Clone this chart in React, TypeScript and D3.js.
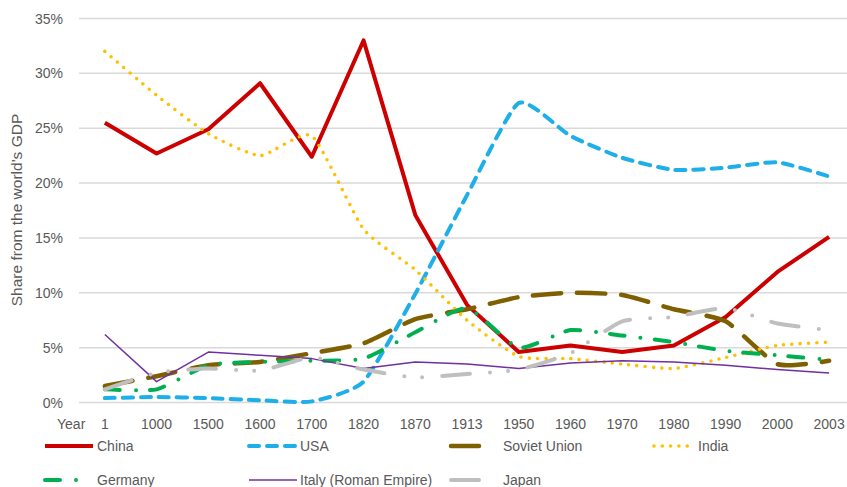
import React from "react";
import * as d3 from "d3";

// Share of world GDP (%) by year
const years = ["1", "1000", "1500", "1600", "1700", "1820", "1870", "1913", "1950", "1960", "1970", "1980", "1990", "2000", "2003"];

const china = [25.5, 22.7, 24.9, 29.1, 22.4, 33.0, 17.1, 8.9, 4.6, 5.2, 4.6, 5.2, 7.8, 11.9, 15.1];
const usa = [0.4, 0.5, 0.4, 0.2, 0.1, 1.9, 9.9, 18.9, 27.3, 24.3, 22.3, 21.2, 21.4, 21.9, 20.6];
const sovietUnion = [1.5, 2.4, 3.4, 3.7, 4.5, 5.4, 7.6, 8.5, 9.6, 10.0, 9.8, 8.5, 7.4, 3.5, 3.8];
const india = [32.0, 28.0, 24.5, 22.5, 24.3, 15.8, 12.1, 7.5, 4.2, 4.0, 3.5, 3.1, 4.1, 5.2, 5.5];
const germany = [1.2, 1.2, 3.4, 3.7, 3.8, 4.0, 6.4, 8.6, 5.0, 6.6, 6.1, 5.5, 4.7, 4.3, 3.9];
const italy = [6.2, 1.9, 4.6, 4.3, 4.0, 3.1, 3.7, 3.5, 3.1, 3.6, 3.8, 3.7, 3.4, 3.0, 2.7];
const japan = [1.2, 2.7, 3.1, 2.9, 4.1, 3.0, 2.3, 2.6, 3.0, 4.5, 7.4, 7.8, 8.6, 7.2, 6.6];

const yTicks = [0, 5, 10, 15, 20, 25, 30, 35];

type Series = {
  name: string;
  values: number[];
  color: string;
  width: number;
  dash: string;
  cap: "round" | "butt";
  smooth: boolean;
  col: number;
  row: number;
  legendLen: number;
};

const series: Series[] = [
  { name: "China", values: china, color: "#CC0000", width: 4, dash: "", cap: "butt", smooth: false, col: 0, row: 0, legendLen: 48 },
  { name: "USA", values: usa, color: "#1EAEE8", width: 4, dash: "10,8", cap: "round", smooth: true, col: 1, row: 0, legendLen: 46 },
  { name: "Soviet Union", values: sovietUnion, color: "#7F6000", width: 4.5, dash: "28,16", cap: "round", smooth: true, col: 2, row: 0, legendLen: 30 },
  { name: "India", values: india, color: "#FFC000", width: 3.6, dash: "0,8.3", cap: "round", smooth: true, col: 3, row: 0, legendLen: 41 },
  { name: "Germany", values: germany, color: "#00B050", width: 4, dash: "15,16,0,14", cap: "round", smooth: true, col: 0, row: 1, legendLen: 32 },
  { name: "Italy (Roman Empire)", values: italy, color: "#7030A0", width: 1.5, dash: "", cap: "butt", smooth: false, col: 1, row: 1, legendLen: 48 },
  { name: "Japan", values: japan, color: "#BFBFBF", width: 4, dash: "28,20,0,18,0,20", cap: "round", smooth: true, col: 2, row: 1, legendLen: 32 },
];

const W = 847;
const H = 487;
const textColor = "#595959";
const font = "'Liberation Sans', Arial, sans-serif";

// legend column layout: symbol start and label x
const legendCols = [
  { sx: 45, tx: 97 },
  { sx: 249, tx: 300 },
  { sx: 451, tx: 503 },
  { sx: 654, tx: 698 },
];
const legendRows = [446, 480];

export default function App() {
  const x = d3.scaleBand<string>().domain(years).range([79, 855]).padding(0);
  const cx = (i: number) => (x(years[i]) ?? 0) + x.bandwidth() / 2;
  const y = d3.scaleLinear().domain([0, 35]).range([402.5, 18.5]);

  const straight = d3
    .line<number>()
    .x((_, i) => cx(i))
    .y((d) => y(d));
  const smooth = d3
    .line<number>()
    .x((_, i) => cx(i))
    .y((d) => y(d))
    .curve(d3.curveCardinal.tension(0.45));

  return (
    <svg
      width={W}
      height={H}
      style={{ position: "absolute", left: 0, top: 0, background: "#fff" }}
      fontFamily={font}
    >
      <rect x={0} y={0} width={W} height={H} fill="#fff" />
      {/* horizontal gridlines */}
      {yTicks.map((t) => (
        <line key={t} x1={79} x2={855} y1={y(t)} y2={y(t)} stroke="#D9D9D9" strokeWidth={1.5} />
      ))}
      {/* y tick labels */}
      {yTicks.map((t) => (
        <text key={"l" + t} x={63} y={y(t)} dy="0.36em" textAnchor="end" fontSize={14} fill={textColor}>
          {t}%
        </text>
      ))}
      {/* y axis title */}
      <text
        transform={`translate(22,210) rotate(-90)`}
        textAnchor="middle"
        fontSize={15.5}
        fill={textColor}
      >
        Share from the world's GDP
      </text>
      {/* x category labels */}
      <text x={57} y={429} fontSize={14} fill={textColor}>
        Year
      </text>
      {years.map((yr, i) => (
        <text key={yr} x={cx(i)} y={429} textAnchor="middle" fontSize={14} fill={textColor}>
          {yr}
        </text>
      ))}
      {/* series lines */}
      {series.map((s) => (
        <path
          key={s.name}
          d={(s.smooth ? smooth : straight)(s.values) ?? ""}
          fill="none"
          stroke={s.color}
          strokeWidth={s.width}
          strokeDasharray={s.dash || undefined}
          strokeLinecap={s.cap}
          strokeLinejoin="round"
        />
      ))}
      {/* legend */}
      {series.map((s) => {
        const c = legendCols[s.col];
        const ly = legendRows[s.row];
        return (
          <g key={"lg" + s.name}>
            <line
              x1={c.sx}
              x2={c.sx + s.legendLen}
              y1={ly}
              y2={ly}
              stroke={s.color}
              strokeWidth={s.width}
              strokeDasharray={s.dash || undefined}
              strokeLinecap={s.cap}
            />
            <text x={c.tx} y={ly} dy="0.36em" fontSize={14} fill={textColor}>
              {s.name}
            </text>
          </g>
        );
      })}
    </svg>
  );
}
